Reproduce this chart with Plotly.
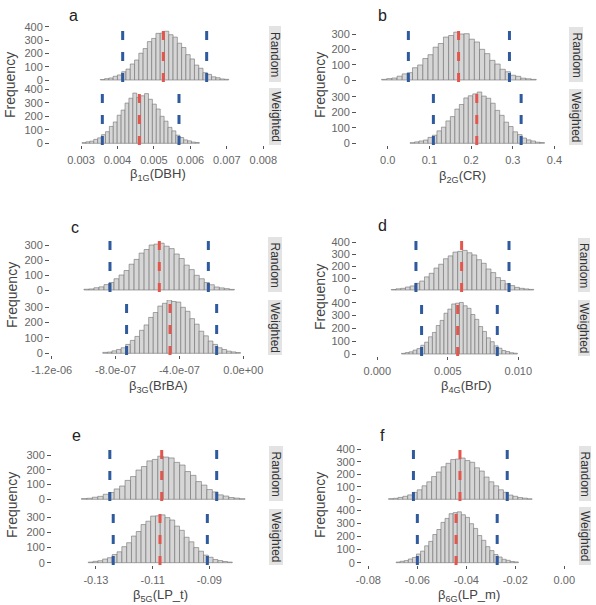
import numpy as np
import plotly.graph_objects as go

# ---------------- data ----------------
panel_letters = ["a", "b", "c", "d", "e", "f"]
x_titles = ["β<sub>1G</sub>(DBH)", "β<sub>2G</sub>(CR)", "β<sub>3G</sub>(BrBA)",
            "β<sub>4G</sub>(BrD)", "β<sub>5G</sub>(LP_t)", "β<sub>6G</sub>(LP_m)"]
facet_labels = ["Random", "Weighted"]

a_tickvals = [0.003, 0.004, 0.005, 0.006, 0.007, 0.008]
a_ticktext = ["0.003", "0.004", "0.005", "0.006", "0.007", "0.008"]
b_tickvals = [0.0, 0.1, 0.2, 0.3, 0.4]
b_ticktext = ["0.0", "0.1", "0.2", "0.3", "0.4"]
c_tickvals = [-1.2e-06, -8.0e-07, -4.0e-07, 0.0]
c_ticktext = ["-1.2e-06", "-8.0e-07", "-4.0e-07", "0.0e+00"]
d_tickvals = [0.0, 0.005, 0.010]
d_ticktext = ["0.000", "0.005", "0.010"]
e_tickvals = [-0.13, -0.11, -0.09]
e_ticktext = ["-0.13", "-0.11", "-0.09"]
f_tickvals = [-0.08, -0.06, -0.04, -0.02, 0.00]
f_ticktext = ["-0.08", "-0.06", "-0.04", "-0.02", "0.00"]

# histogram ranges (min, max of the binned values), counts, 95% interval and mean
a_rand_range = [0.00353, 0.00705]
a_rand_counts = [4, 10, 15, 28, 38, 62, 82, 120, 150, 201, 236, 288, 312, 350, 352,
                 366, 340, 322, 276, 244, 190, 158, 112, 88, 55, 42, 24, 17, 8, 5]
a_rand_ci = [0.004143, 0.006446]
a_rand_mean = 0.005258
a_wt_range = [0.003028, 0.006244]
a_wt_counts = [5, 11, 16, 29, 40, 64, 86, 125, 158, 208, 246, 298, 334, 372, 340,
               352, 368, 326, 290, 254, 200, 164, 118, 92, 60, 43, 25, 18, 9, 6]
a_wt_ci = [0.003585, 0.005687]
a_wt_mean = 0.0046

b_rand_range = [-0.0146, 0.3562]
b_rand_counts = [4, 9, 13, 25, 40, 48, 80, 98, 140, 165, 214, 238, 280, 290, 312,
                 300, 302, 266, 248, 200, 172, 128, 104, 70, 54, 31, 24, 12, 8, 4]
b_rand_ci = [0.0496, 0.292]
b_rand_mean = 0.170
b_wt_range = [0.0537, 0.3759]
b_wt_counts = [4, 9, 15, 21, 38, 52, 80, 104, 144, 172, 220, 250, 292, 306, 318,
               330, 304, 290, 258, 212, 180, 136, 108, 74, 56, 34, 22, 15, 7, 5]
b_wt_ci = [0.1096, 0.320]
b_wt_mean = 0.2136

c_rand_range = [-9.98e-07, -5.6e-08]
c_rand_counts = [5, 7, 15, 21, 36, 50, 75, 100, 130, 172, 204, 246, 270, 300, 306,
                 312, 292, 276, 240, 210, 166, 136, 98, 75, 50, 35, 20, 14, 9, 4]
c_rand_ci = [-8.35e-07, -2.19e-07]
c_rand_mean = -5.26e-07
c_wt_range = [-8.8e-07, -1.8e-08]
c_wt_counts = [6, 8, 16, 25, 36, 58, 84, 110, 150, 185, 234, 266, 308, 326, 348,
               338, 334, 300, 274, 226, 190, 144, 114, 80, 58, 36, 25, 14, 9, 5]
c_wt_ci = [-7.31e-07, -1.67e-07]
c_wt_mean = -4.59e-07

d_rand_range = [0.000988, 0.01109]
d_rand_counts = [4, 10, 14, 25, 34, 56, 75, 110, 140, 184, 216, 262, 286, 318, 324,
                 332, 312, 294, 254, 224, 176, 146, 104, 80, 52, 37, 22, 14, 9, 5]
d_rand_ci = [0.00274, 0.00934]
d_rand_mean = 0.00598
d_wt_range = [0.001715, 0.009935]
d_wt_counts = [5, 11, 17, 30, 42, 68, 92, 134, 168, 222, 262, 318, 350, 390, 396,
               402, 376, 356, 308, 270, 214, 176, 126, 96, 64, 45, 27, 19, 10, 6]
d_wt_ci = [0.00314, 0.00851]
d_wt_mean = 0.0057

e_rand_range = [-0.13511, -0.07739]
e_rand_counts = [5, 7, 14, 20, 34, 46, 70, 90, 128, 154, 198, 222, 260, 270, 292,
                 286, 280, 250, 232, 188, 162, 120, 96, 66, 50, 30, 22, 12, 8, 4]
e_rand_ci = [-0.1251, -0.0874]
e_rand_mean = -0.1068
e_wt_range = [-0.13271, -0.08189]
e_wt_counts = [4, 9, 13, 24, 33, 54, 72, 106, 132, 176, 206, 252, 274, 308, 310,
               316, 298, 282, 242, 214, 168, 138, 100, 76, 50, 36, 21, 14, 8, 4]
e_wt_ci = [-0.1239, -0.0907]
e_wt_mean = -0.1074

f_rand_range = [-0.07176, -0.01314]
f_rand_counts = [5, 8, 15, 24, 35, 55, 76, 108, 140, 182, 218, 260, 288, 318, 322,
                 330, 310, 296, 252, 226, 178, 140, 108, 76, 56, 34, 24, 14, 9, 4]
f_rand_ci = [-0.0616, -0.0233]
f_rand_mean = -0.0426
f_wt_range = [-0.06866, -0.01874]
f_wt_counts = [5, 11, 16, 28, 40, 66, 88, 128, 162, 214, 252, 306, 336, 372, 380,
               386, 364, 344, 296, 260, 206, 170, 122, 92, 62, 43, 26, 18, 9, 6]
f_wt_ci = [-0.060, -0.0274]
f_wt_mean = -0.0442

# ---------------- layout geometry (pixels) ----------------
W, H = 596, 605
FONT = "Liberation Sans, Arial, sans-serif"

panels = [
    dict(data=[(a_rand_range, a_rand_counts, a_rand_ci, a_rand_mean),
               (a_wt_range, a_wt_counts, a_wt_ci, a_wt_mean)],
         tv=a_tickvals, tt=a_ticktext, xpx=(50, 266), xrange=(0.00215, 0.008073),
         facets=[(26, 82, 80, 26.7, 400), (88, 145, 143.3, 89.3, 400)],
         strip=(269, 281), title_y=175, letter=(73, 16), freq=(10, 85)),
    dict(data=[(b_rand_range, b_rand_counts, b_rand_ci, b_rand_mean),
               (b_wt_range, b_wt_counts, b_wt_ci, b_wt_mean)],
         tv=b_tickvals, tt=b_ticktext, xpx=(357, 567), xrange=(-0.0736, 0.430),
         facets=[(27, 82, 80, 34, 300), (89, 145, 143.3, 96.7, 300)],
         strip=(569, 583), title_y=176, letter=(382, 16), freq=(320, 85)),
    dict(data=[(c_rand_range, c_rand_counts, c_rand_ci, c_rand_mean),
               (c_wt_range, c_wt_counts, c_wt_ci, c_wt_mean)],
         tv=c_tickvals, tt=c_ticktext, xpx=(50, 268), xrange=(-1.2106e-06, 1.546e-07),
         facets=[(237, 292, 290, 245, 300), (300, 355, 353.3, 307.3, 300)],
         strip=(268, 282), title_y=386, letter=(75, 227), freq=(12, 295)),
    dict(data=[(d_rand_range, d_rand_counts, d_rand_ci, d_rand_mean),
               (d_wt_range, d_wt_counts, d_wt_ci, d_wt_mean)],
         tv=d_tickvals, tt=d_ticktext, xpx=(357, 575), xrange=(-0.00144, 0.01402),
         facets=[(238, 292, 290, 242.3, 400), (300, 356, 354, 302.7, 400)],
         strip=(578, 590), title_y=386, letter=(382, 225), freq=(320, 297)),
    dict(data=[(e_rand_range, e_rand_counts, e_rand_ci, e_rand_mean),
               (e_wt_range, e_wt_counts, e_wt_ci, e_wt_mean)],
         tv=e_tickvals, tt=e_ticktext, xpx=(52, 268), xrange=(-0.1455, -0.0693),
         facets=[(446, 501, 499.3, 455, 300), (509, 565, 562.7, 517.3, 300)],
         strip=(269, 283), title_y=595, letter=(76, 435), freq=(12, 505)),
    dict(data=[(f_rand_range, f_rand_counts, f_rand_ci, f_rand_mean),
               (f_wt_range, f_wt_counts, f_wt_ci, f_wt_mean)],
         tv=f_tickvals, tt=f_ticktext, xpx=(362, 575), xrange=(-0.0826, 0.00437),
         facets=[(446, 501, 499.3, 449.3, 400), (507, 565, 562.7, 510, 400)],
         strip=(579, 591), title_y=595, letter=(382, 435), freq=(320, 505)),
]

BLUE = "#2f5b9e"
RED = "#e2564d"

fig = go.Figure()
layout = dict(template="none", width=W, height=H, margin=dict(l=0, r=0, t=0, b=0, pad=0),
              paper_bgcolor="white", plot_bgcolor="white", showlegend=False,
              barmode="overlay", font=dict(family=FONT, color="#444"))
shapes, annotations = [], []

def px_x(x):
    return x / W

def px_y(y):
    return 1 - y / H

n = 0
for k, p in enumerate(panels):
    for fi, (facet, d) in enumerate(zip(p["facets"], p["data"])):
        n += 1
        xa = "x" if n == 1 else f"x{n}"
        ya = "y" if n == 1 else f"y{n}"
        xkey = "xaxis" if n == 1 else f"xaxis{n}"
        ykey = "yaxis" if n == 1 else f"yaxis{n}"
        top, bottom, p0, pT, T = facet
        s = (p0 - pT) / T
        ylo = -(bottom - p0) / s
        yhi = (p0 - top) / s
        rng, counts, ci, mean = d
        nb = len(counts)
        w = (rng[1] - rng[0]) / nb
        centers = np.linspace(rng[0] + w / 2, rng[1] - w / 2, nb)
        fig.add_trace(go.Bar(x=centers, y=counts, width=w, xaxis=xa, yaxis=ya,
                             marker=dict(color="#d6d6d6",
                                         line=dict(color="#707070", width=0.6)),
                             hoverinfo="skip"))
        is_bottom = fi == 1
        xa_dict = dict(domain=[px_x(p["xpx"][0]), px_x(p["xpx"][1])],
                       range=list(p["xrange"]), anchor=ya, automargin=False,
                       showgrid=False, zeroline=False, showline=False)
        if is_bottom:
            xa_dict.update(tickmode="array", tickvals=p["tv"], ticktext=p["tt"],
                           ticks="outside", ticklen=3, tickwidth=1, tickcolor="#555",
                           ticklabelstandoff=2,
                           tickfont=dict(family=FONT, size=11, color="#666"))
        else:
            xa_dict.update(showticklabels=False, ticks="")
        layout[xkey] = xa_dict
        layout[ykey] = dict(domain=[px_y(bottom), px_y(top)], range=[ylo, yhi],
                            anchor=xa, automargin=False,
                            showgrid=False, zeroline=False, showline=False,
                            tickmode="array",
                            tickvals=list(range(0, T + 1, 100)),
                            ticks="outside", ticklen=4, tickwidth=1.2, tickcolor="#555",
                            tickfont=dict(family=FONT, size=11, color="#666"))
        for xv, col in ((ci[0], BLUE), (ci[1], BLUE), (mean, RED)):
            shapes.append(dict(type="line", xref=xa, yref=f"{ya} domain",
                               x0=xv, x1=xv, y0=0, y1=1,
                               line=dict(color=col, width=3, dash="9px,12px")))
        # facet strip
        sx0, sx1 = p["strip"]
        shapes.append(dict(type="rect", xref="paper", yref="paper",
                           x0=px_x(sx0), x1=px_x(sx1), y0=px_y(bottom), y1=px_y(top),
                           fillcolor="#e3e3e3", line=dict(width=0), layer="below"))
        annotations.append(dict(xref="paper", yref="paper",
                                x=px_x((sx0 + sx1) / 2), y=px_y((top + bottom) / 2),
                                text=facet_labels[fi], textangle=90, showarrow=False,
                                xanchor="center", yanchor="middle",
                                font=dict(family=FONT, size=12, color="#333")))
    cx = (p["xpx"][0] + p["xpx"][1]) / 2
    annotations.append(dict(xref="paper", yref="paper", x=px_x(cx), y=px_y(p["title_y"]),
                            text=x_titles[k], showarrow=False, xanchor="center",
                            yanchor="middle", font=dict(family=FONT, size=13, color="#444")))
    annotations.append(dict(xref="paper", yref="paper", x=px_x(p["letter"][0]),
                            y=px_y(p["letter"][1]), text=panel_letters[k], showarrow=False,
                            xanchor="center", yanchor="middle",
                            font=dict(family=FONT, size=16, color="#222")))
    annotations.append(dict(xref="paper", yref="paper", x=px_x(p["freq"][0]),
                            y=px_y(p["freq"][1]), text="Frequency", textangle=-90,
                            showarrow=False, xanchor="center", yanchor="middle",
                            font=dict(family=FONT, size=14, color="#444")))

layout["shapes"] = shapes
layout["annotations"] = annotations
fig.update_layout(**layout)
fig.write_html("out.html", config={"displayModeBar": False},
               post_script="document.body.style.margin='0px';document.body.style.padding='0px';")
